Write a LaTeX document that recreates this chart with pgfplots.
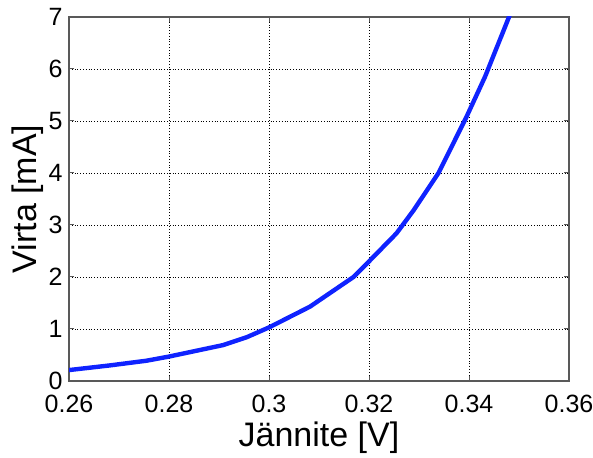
\documentclass[border=0pt]{standalone}
\usepackage{fontspec}
\setmainfont{Liberation Sans}
\usepackage{pgfplots}
\pgfplotsset{compat=1.18}
\definecolor{curveblue}{RGB}{15,35,255}

\begin{document}
\begin{tikzpicture}
% page = axis box plus the margins of the reference
\useasboundingbox (-34.5pt,-38.5pt) rectangle (262pt,190.5pt);
\begin{axis}[
  at={(0,0)}, anchor=south west,
  scale only axis,
  width=250pt, height=182pt,
  xmin=0.26, xmax=0.36, ymin=0, ymax=7,
  xtick={0.26,0.28,0.30,0.32,0.34,0.36}, ytick={0,1,...,7},
  xticklabels={0.26,0.28,0.3,0.32,0.34,0.36},
  xlabel={Jännite [V]}, ylabel={Virta [mA]},
  ticklabel style={font=\fontsize{12.5}{15}\selectfont},
  /pgf/number format/assume math mode=true,
  xticklabel style={anchor=north, inner sep=0pt, yshift=-7pt},
  yticklabel style={anchor=east, inner sep=0pt, xshift=-3pt},
  xlabel style={font=\fontsize{17}{20}\selectfont, at={(axis description cs:0.5,0)},
    anchor=center, yshift=-28.5pt},
  % label is already rotated, so yshift moves it left
  ylabel style={font=\fontsize{17}{20}\selectfont, at={(axis description cs:0,0.5)},
    anchor=center, yshift=20.5pt},
  grid=major, grid style={black, densely dotted, line width=0.4pt},
  axis line style={black!65, line width=0.6pt},
  tick style={black!65, line width=0.5pt},
  tick align=inside, major tick length=2.5pt,
  xtick pos=both, ytick pos=both,
  clip=true]
\addplot[curveblue, line width=2.2pt, line join=round] table {
  x       y
  0.2600  0.21
  0.2682  0.30
  0.2755  0.39
  0.2800  0.47
  0.2908  0.69
  0.2955  0.84
  0.3000  1.03
  0.3082  1.43
  0.3169  2.00
  0.3199  2.29
  0.3255  2.84
  0.3289  3.28
  0.3339  4.00
  0.3395  5.08
  0.3432  5.85
  0.3480  7.00
  0.3490  7.25
};
\end{axis}
\end{tikzpicture}
\end{document}
